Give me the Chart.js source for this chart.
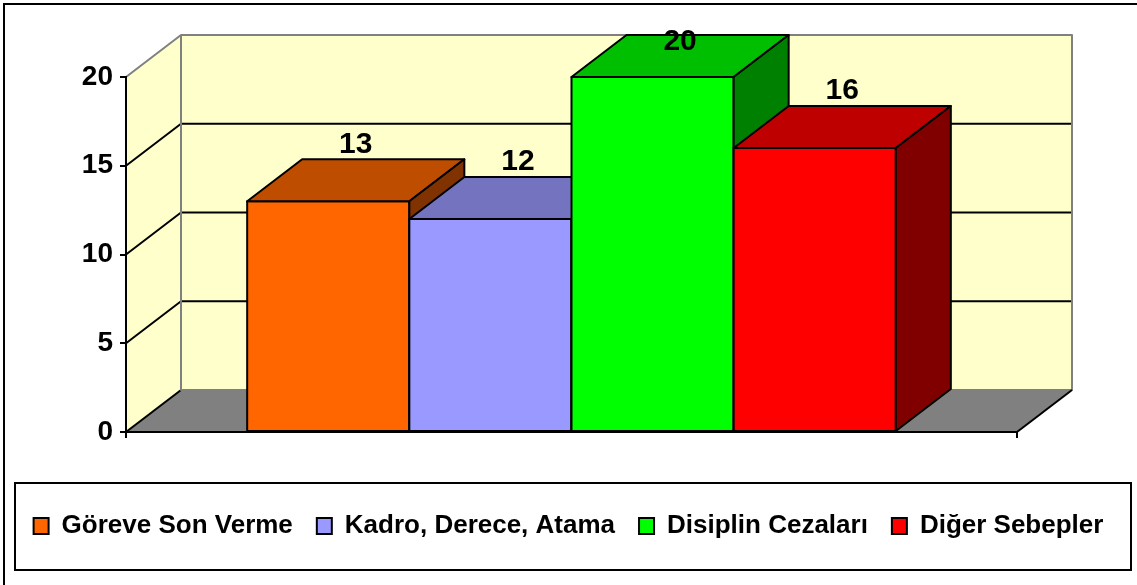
<!DOCTYPE html>
<html lang="tr">
<head>
<meta charset="utf-8">
<title>Chart</title>
<script src="https://cdn.jsdelivr.net/npm/chart.js@4.4.0/dist/chart.umd.min.js"></script>
<style>
  html, body { margin: 0; padding: 0; background: #fff; }
  canvas { display: block; }
</style>
</head>
<body>
<canvas id="chart" width="1137" height="585"></canvas>
<script>
// --- データ ---
const categories = [''];
const seriesNames = ['Göreve Son Verme', 'Kadro, Derece, Atama', 'Disiplin Cezaları', 'Diğer Sebepler'];
const seriesValues = [13, 12, 20, 16];
const seriesColors = ['#FF6600', '#9999FF', '#00FF00', '#FF0000'];
const yMin = 0;
const yMax = 20;
const yStep = 5;

// --- 3D 奥行き ---
const DX = 55;
const DY = -42;
const FONT = '"Liberation Sans", Arial, sans-serif';
const WALL = '#FFFFCC';
const FLOOR = '#808080';
const EDGE = '#808080';

// 色を暗くする
function shade(hex, k) {
  const n = parseInt(hex.slice(1), 16);
  const r = Math.round(((n >> 16) & 255) * k);
  const g = Math.round(((n >> 8) & 255) * k);
  const b = Math.round((n & 255) * k);
  return `rgb(${r},${g},${b})`;
}

function poly(ctx, pts) {
  ctx.beginPath();
  ctx.moveTo(pts[0][0], pts[0][1]);
  for (let i = 1; i < pts.length; i++) ctx.lineTo(pts[i][0], pts[i][1]);
  ctx.closePath();
}

function line(ctx, pts, color, w) {
  ctx.beginPath();
  ctx.moveTo(pts[0][0], pts[0][1]);
  for (let i = 1; i < pts.length; i++) ctx.lineTo(pts[i][0], pts[i][1]);
  ctx.strokeStyle = color;
  ctx.lineWidth = w;
  ctx.stroke();
}

const box3d = {
  id: 'box3d',
  // 壁と床
  beforeDraw(chart) {
    const { ctx, chartArea: a, scales: { y } } = chart;
    const l = a.left, r = a.right;
    const t = y.getPixelForValue(yMax), b = y.getPixelForValue(yMin);
    ctx.save();
    ctx.lineJoin = 'round';
    ctx.fillStyle = WALL;
    ctx.fillRect(l + DX, t + DY, r - l, b - t);
    poly(ctx, [[l, t], [l + DX, t + DY], [l + DX, b + DY], [l, b]]);
    ctx.fill();
    ctx.fillStyle = FLOOR;
    poly(ctx, [[l, b], [l + DX, b + DY], [r + DX, b + DY], [r, b]]);
    ctx.fill();

    for (let v = yMin + yStep; v < yMax; v += yStep) {
      const py = y.getPixelForValue(v);
      line(ctx, [[l, py], [l + DX, py + DY], [r + DX, py + DY]], '#000', 2);
    }
    line(ctx, [[l, b], [l + DX, b + DY]], '#000', 2);
    // 外枠（灰色）
    line(ctx, [[l, t], [l + DX, t + DY], [r + DX, t + DY], [r + DX, b + DY], [l + DX, b + DY], [l + DX, t + DY]], EDGE, 2);
    line(ctx, [[r, b], [r + DX, b + DY]], '#000', 2);
    ctx.restore();
  },
  // 棒を立体で描き直す（左から順に）
  afterDatasetsDraw(chart) {
    const { ctx, chartArea: a } = chart;
    ctx.save();
    ctx.lineJoin = 'round';
    ctx.lineWidth = 2;
    ctx.strokeStyle = '#000';
    const tops = [];
    chart.data.datasets.forEach((ds, i) => {
      const bar = chart.getDatasetMeta(i).data[0];
      if (!bar) return;
      const { x, y, base, width } = bar.getProps(['x', 'y', 'base', 'width'], true);
      const L = x - width / 2, R = x + width / 2;
      const col = seriesColors[i];
      ctx.fillStyle = col;
      poly(ctx, [[L, y], [R, y], [R, base], [L, base]]);
      ctx.fill(); ctx.stroke();
      ctx.fillStyle = shade(col, 0.75);
      poly(ctx, [[L, y], [L + DX, y + DY], [R + DX, y + DY], [R, y]]);
      ctx.fill(); ctx.stroke();
      ctx.fillStyle = shade(col, 0.5);
      poly(ctx, [[R, y], [R + DX, y + DY], [R + DX, base + DY], [R, base]]);
      ctx.fill(); ctx.stroke();
      tops.push({ x: x + DX / 2, y: y + DY, v: ds.data[0] });
    });
    // 値ラベル
    ctx.fillStyle = '#000';
    ctx.font = `bold 30px ${FONT}`;
    ctx.textAlign = 'center';
    ctx.textBaseline = 'middle';
    const minY = a.top + DY + 7;
    tops.forEach(p => {
      ctx.fillText(String(p.v), p.x, Math.max(p.y - 15, minY));
    });
    ctx.restore();
  },
  // 外枠と凡例枠
  afterDraw(chart) {
    const { ctx, legend } = chart;
    ctx.save();
    line(ctx, [[4, chart.height + 5], [4, 4], [chart.width + 5, 4]], '#000', 2);
    if (legend) {
      ctx.strokeStyle = '#000';
      ctx.lineWidth = 2;
      ctx.strokeRect(15, legend.top - 6, chart.width - 21, legend.bottom - legend.top + 27);
    }
    ctx.restore();
  }
};

const datasets = seriesNames.map((name, i) => ({
  label: name,
  data: [seriesValues[i]],
  backgroundColor: seriesColors[i],
  borderColor: '#000',
  borderWidth: 2
}));

new Chart(document.getElementById('chart'), {
  type: 'bar',
  data: { labels: categories, datasets },
  options: {
    responsive: false,
    animation: false,
    datasets: { bar: { categoryPercentage: 0.728, barPercentage: 1 } },
    layout: { padding: { left: 0, right: 0, top: 77, bottom: 36 } },
    plugins: {
      tooltip: { enabled: false },
      legend: {
        position: 'bottom',
        labels: {
          color: '#000',
          font: { family: FONT, size: 26, weight: 'bold' },
          boxWidth: 15,
          boxHeight: 16,
          padding: 24
        }
      }
    },
    scales: {
      x: {
        ticks: { display: false },
        grid: { display: true, drawOnChartArea: false, drawTicks: true, tickLength: 6, color: '#000', lineWidth: 2 },
        border: { display: true, color: '#000', width: 2 },
        afterFit: s => { s.height = 57; }
      },
      y: {
        min: yMin,
        max: yMax,
        ticks: { stepSize: yStep, color: '#000', padding: 7, font: { family: FONT, size: 28, weight: 'bold' } },
        grid: { display: true, drawOnChartArea: false, drawTicks: true, tickLength: 6, color: '#000', lineWidth: 2 },
        border: { display: true, color: '#000', width: 2 },
        afterFit: s => { s.width = 126; }
      },
      y2: {
        type: 'linear',
        position: 'right',
        ticks: { display: false },
        grid: { display: false },
        border: { display: false },
        afterFit: s => { s.width = 120; }
      }
    }
  },
  plugins: [box3d]
});
</script>
</body>
</html>
